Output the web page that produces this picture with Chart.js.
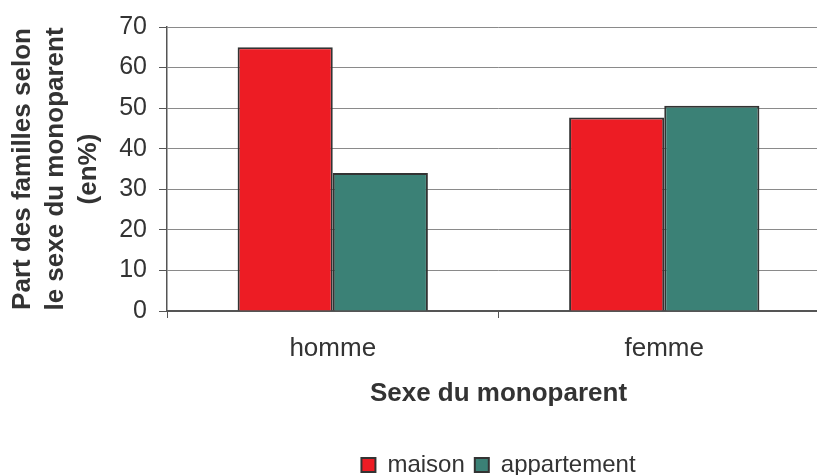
<!DOCTYPE html>
<html>
<head>
<meta charset="utf-8">
<script src="https://cdn.jsdelivr.net/npm/chart.js@4/dist/chart.umd.min.js"></script>
<style>
  html, body { margin: 0; padding: 0; background: #fff; overflow: hidden; }
  #wrap { width: 817px; height: 475px; overflow: hidden; position: relative; }
  #box { width: 830px; height: 487px; position: absolute; left: 0; top: 0; }
</style>
</head>
<body>
<div id="wrap"><div id="box"><canvas id="chart"></canvas></div></div>
<script>
// data
const categories = ['homme', 'femme'];
const maison = [65, 47.7];
const appartement = [34, 50.6];
const yTicks = [0, 10, 20, 30, 40, 50, 60, 70];

const textColor = '#333333';
const fontFamily = 'Arial, "Liberation Sans", sans-serif';

// legend is centred under the plot area, not the whole canvas
const legendUnderPlot = {
    id: 'legendUnderPlot',
    beforeDraw(chart) {
        const lg = chart.legend;
        lg.left = chart.chartArea.left;
        lg.right = chart.chartArea.right;
    }
};

const ctx = document.getElementById('chart').getContext('2d');
new Chart(ctx, {
    type: 'bar',
    data: {
        labels: categories,
        datasets: [{
            label: 'maison',
            data: maison,
            backgroundColor: '#ED1C24',
            borderColor: '#333333',
            borderWidth: 2
        }, {
            label: 'appartement',
            data: appartement,
            backgroundColor: '#3B8176',
            borderColor: '#333333',
            borderWidth: 2
        }]
    },
    options: {
        responsive: true,
        maintainAspectRatio: false,
        animation: false,
        layout: { padding: { top: 27, left: 0, right: 0, bottom: 0 } },
        datasets: { bar: { categoryPercentage: 0.574, barPercentage: 1.0 } },
        plugins: {
            tooltip: { enabled: false },
            legend: {
                position: 'bottom',
                labels: {
                    color: textColor,
                    font: { family: fontFamily, size: 24 },
                    boxWidth: 14,
                    boxHeight: 14,
                    padding: 10
                }
            }
        },
        scales: {
            x: {
                afterFit: (s) => { s.height = 132; },
                grid: {
                    display: true,
                    drawOnChartArea: false,
                    drawTicks: true,
                    tickLength: 7,
                    color: '#555555'
                },
                border: { color: '#555555', width: 2 },
                ticks: {
                    color: textColor,
                    font: { family: fontFamily, size: 26 },
                    padding: 15
                },
                title: {
                    display: true,
                    text: 'Sexe du monoparent',
                    color: textColor,
                    font: { family: fontFamily, size: 26, weight: 'bold' },
                    padding: { top: 0, bottom: 34 }
                }
            },
            y: {
                min: 0,
                max: 70,
                afterFit: (s) => { s.width = 167; },
                afterBuildTicks: (s) => { s.ticks = yTicks.map(v => ({ value: v })); },
                grid: {
                    color: '#8a8a8a',
                    lineWidth: 1,
                    tickLength: 8,
                    tickColor: '#555555'
                },
                border: { color: '#555555', width: 1.5 },
                ticks: {
                    color: textColor,
                    font: { family: fontFamily, size: 25 },
                    padding: 12
                },
                title: {
                    display: true,
                    text: ['Part des familles selon', 'le sexe du monoparent', '(en%)'],
                    color: textColor,
                    font: { family: fontFamily, size: 26, weight: 'bold', lineHeight: '33px' },
                    padding: { top: 6, bottom: 0 }
                }
            }
        }
    },
    plugins: [legendUnderPlot]
});
</script>
</body>
</html>
